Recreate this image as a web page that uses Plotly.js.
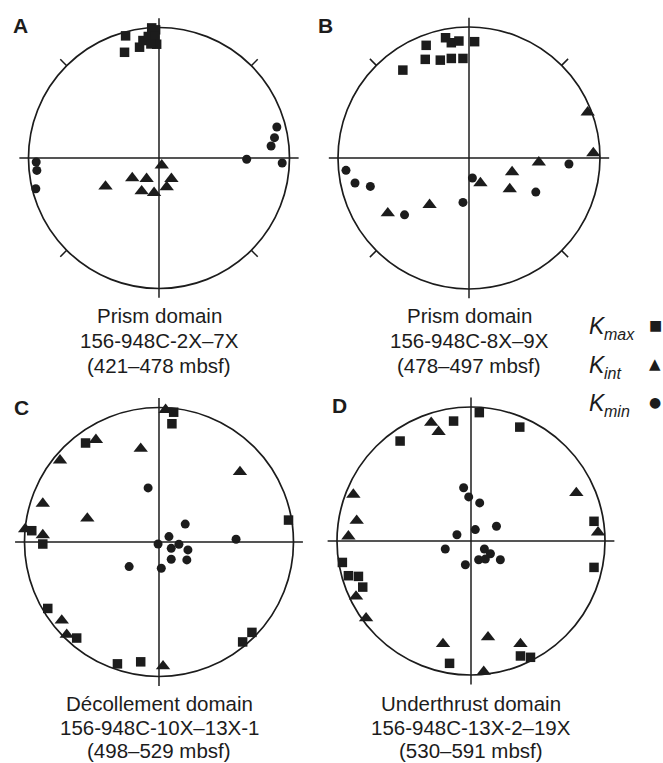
<!DOCTYPE html>
<html>
<head>
<meta charset="utf-8">
<script src="https://cdn.plot.ly/plotly-3.0.1.min.js"></script>
<style>html,body{margin:0;padding:0;background:#fff;}#chart{width:663px;height:763px;}</style>
</head>
<body>
<div id="chart"></div>
<script>
// Positions are in units of the net radius (x = east, y = north).
// Panel A
const A_max_x = [-0.256, -0.264, -0.149, -0.123, -0.082, -0.056, -0.026, -0.031, -0.018, -0.062];
const A_max_y = [0.936, 0.810, 0.849, 0.900, 0.931, 0.997, 0.982, 0.931, 0.872, 0.874];
const A_int_x = [0.021, -0.410, -0.205, -0.095, -0.133, -0.038, 0.059, 0.095];
const A_int_y = [-0.056, -0.218, -0.154, -0.159, -0.254, -0.267, -0.223, -0.159];
const A_min_x = [0.903, 0.885, 0.859, 0.672, 0.944, -0.941, -0.936, -0.944];
const A_min_y = [0.238, 0.156, 0.092, -0.010, -0.038, -0.031, -0.095, -0.236];
// Panel B
const B_max_x = [-0.327, -0.179, -0.135, -0.077, 0.043, -0.505, -0.334, -0.219, -0.135, -0.046];
const B_max_y = [0.860, 0.918, 0.880, 0.893, 0.888, 0.671, 0.753, 0.747, 0.760, 0.760];
const B_int_x = [0.906, 0.949, 0.533, 0.329, 0.087, 0.311, -0.301, -0.620];
const B_int_y = [0.349, 0.038, -0.033, -0.107, -0.191, -0.237, -0.357, -0.421];
const B_min_x = [-0.939, -0.870, -0.753, -0.492, -0.046, 0.026, 0.510, 0.763];
const B_min_y = [-0.094, -0.191, -0.217, -0.434, -0.339, -0.153, -0.260, -0.046];
// Panel C
const C_max_x = [0.109, 0.096, -0.546, -0.946, -0.864, -0.827, -0.612, -0.309, -0.136, 0.622, 0.691, 0.963];
const C_max_y = [0.965, 0.879, 0.736, 0.084, -0.015, -0.494, -0.714, -0.906, -0.891, -0.743, -0.672, 0.163];
const C_int_x = [0.049, -0.469, -0.136, -0.736, -0.864, -0.533, -0.995, -0.864, 0.602, -0.723, -0.686, 0.030];
const C_int_y = [0.983, 0.760, 0.694, 0.607, 0.286, 0.175, 0.096, 0.052, 0.521, -0.583, -0.689, -0.923];
const C_min_x = [-0.081, 0.195, 0.074, 0.573, -0.007, 0.091, 0.148, 0.215, 0.091, 0.207, -0.222, 0.017];
const C_min_y = [0.402, 0.133, 0.040, 0.020, -0.015, -0.047, -0.017, -0.059, -0.128, -0.133, -0.183, -0.195];
// Panel D
const D_max_x = [0.062, -0.130, 0.364, -0.529, 0.918, 0.918, -0.960, -0.915, -0.840, -0.808, 0.369, 0.444, -0.160];
const D_max_y = [0.958, 0.895, 0.850, 0.746, 0.147, -0.197, -0.160, -0.259, -0.264, -0.344, -0.858, -0.868, -0.913];
const D_int_x = [-0.297, -0.242, -0.878, -0.853, -0.915, 0.786, 0.948, -0.858, -0.783, -0.209, 0.127, 0.369, 0.095];
const D_int_y = [0.883, 0.815, 0.347, 0.152, 0.035, 0.359, 0.065, -0.414, -0.576, -0.768, -0.718, -0.768, -0.975];
const D_min_x = [-0.055, -0.017, 0.065, 0.032, 0.190, -0.105, -0.192, 0.100, 0.145, 0.057, 0.107, 0.219, -0.042];
const D_min_y = [0.397, 0.329, 0.284, 0.085, 0.110, 0.047, -0.060, -0.060, -0.095, -0.140, -0.135, -0.140, -0.177];

const panelLetters = ['A', 'B', 'C', 'D'];
const panelLine1 = ['Prism domain', 'Prism domain', 'Décollement domain', 'Underthrust domain'];
const panelLine2 = ['156-948C-2X–7X', '156-948C-8X–9X', '156-948C-10X–13X-1', '156-948C-13X-2–19X'];
const panelLine3 = ['(421–478 mbsf)', '(478–497 mbsf)', '(498–529 mbsf)', '(530–591 mbsf)'];
const legendMain = ['K', 'K', 'K'];
const legendSubs = ['max', 'int', 'min'];
const legendSymbols = ['■', '▲', '●'];

const W = 663, H = 763;
const INK = '#1c1c1c';
const FONT = 'Liberation Sans, Arial, sans-serif';
// geometry of the nets (pixels)
const nets = [
  {cx: 159, cy: 158, r: 130.5, ticks: true},
  {cx: 469, cy: 158, r: 131, ticks: true},
  {cx: 159, cy: 542, r: 134.5, ticks: false},
  {cx: 471, cy: 541, r: 134, ticks: false}
];
const EXT = 1.15;

const data = [];
const sets = [
  [A_max_x, A_max_y, A_int_x, A_int_y, A_min_x, A_min_y],
  [B_max_x, B_max_y, B_int_x, B_int_y, B_min_x, B_min_y],
  [C_max_x, C_max_y, C_int_x, C_int_y, C_min_x, C_min_y],
  [D_max_x, D_max_y, D_int_x, D_int_y, D_min_x, D_min_y]
];
const symbols = ['square', 'triangle-up', 'circle'];
const sizes = [9.5, 12.5, 9];
const layout = {
  width: W, height: H,
  margin: {l: 0, r: 0, t: 0, b: 0},
  paper_bgcolor: '#fff', plot_bgcolor: 'rgba(0,0,0,0)',
  showlegend: false,
  font: {family: FONT, color: INK},
  shapes: [], annotations: []
};

sets.forEach((s, i) => {
  const n = nets[i];
  const sfx = i === 0 ? '' : String(i + 1);
  const xa = 'x' + sfx, ya = 'y' + sfx;
  for (let k = 0; k < 3; k++) {
    data.push({
      type: 'scatter', mode: 'markers',
      x: s[2 * k], y: s[2 * k + 1],
      xaxis: xa, yaxis: ya,
      cliponaxis: false,
      marker: {symbol: symbols[k], size: sizes[k], color: INK, line: {width: 0}},
      hoverinfo: 'skip'
    });
  }
  const half = EXT * n.r;
  const axCommon = {range: [-EXT, EXT], visible: false, fixedrange: true, showgrid: false, zeroline: false};
  layout['xaxis' + sfx] = Object.assign({}, axCommon, {domain: [(n.cx - half) / W, (n.cx + half) / W], anchor: ya});
  layout['yaxis' + sfx] = Object.assign({}, axCommon, {domain: [(H - n.cy - half) / H, (H - n.cy + half) / H], anchor: xa});
  const ln = {color: INK, width: 1.5};
  layout.shapes.push({type: 'circle', xref: xa, yref: ya, x0: -1, x1: 1, y0: -1, y1: 1, line: {color: INK, width: 1.7}, layer: 'below'});
  layout.shapes.push({type: 'line', xref: xa, yref: ya, x0: -1.07, x1: 1.07, y0: 0, y1: 0, line: ln, layer: 'below'});
  layout.shapes.push({type: 'line', xref: xa, yref: ya, x0: 0, x1: 0, y0: -1.07, y1: 1.07, line: ln, layer: 'below'});
  if (n.ticks) {
    [45, 135, 225, 315].forEach(a => {
      const c = Math.cos(a * Math.PI / 180), sn = Math.sin(a * Math.PI / 180);
      layout.shapes.push({type: 'line', xref: xa, yref: ya, x0: c * 1.0, y0: sn * 1.0, x1: c * 1.07, y1: sn * 1.07, line: ln, layer: 'below'});
    });
  }
});

function note(text, xpx, ypx, size, xanchor, family) {
  layout.annotations.push({text: text, xref: 'paper', yref: 'paper',
    x: xpx / W, y: 1 - ypx / H, xanchor: xanchor, yanchor: 'middle',
    showarrow: false, borderpad: 0, font: {size: size, color: INK, family: family || FONT}});
}

// panel letters
const letterPos = [[20, 25], [325, 25], [21, 407], [339, 405]];
panelLetters.forEach((t, i) => note('<b>' + t + '</b>', letterPos[i][0], letterPos[i][1], 21, 'center'));
// captions
const capY = [[315, 340, 365], [315, 340, 365], [703, 727, 750], [703, 727, 750]];
[panelLine1, panelLine2, panelLine3].forEach((lines, j) => {
  lines.forEach((t, i) => note(t, nets[i].cx, capY[i][j], 20.5, 'center'));
});
// legend
const legY = [326, 365, 403];
legendMain.forEach((t, i) => {
  note('<i>' + t + '</i>', 607, legY[i], 23, 'right');
  note('<i>' + legendSubs[i] + '</i>', 603, legY[i] + 8, 16, 'left');
  note(legendSymbols[i], 655, legY[i] - 1, i === 1 ? 15 : 14, 'center', 'DejaVu Sans, sans-serif');
});

Plotly.newPlot('chart', data, layout, {staticPlot: true, displayModeBar: false});
</script>
</body>
</html>
